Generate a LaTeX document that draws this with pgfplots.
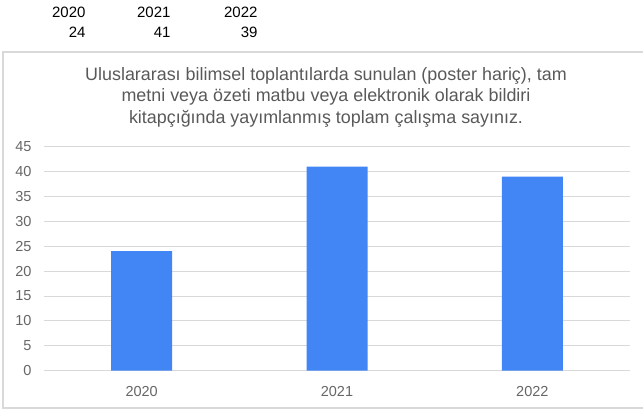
\documentclass[border=0pt]{standalone}
\usepackage{fontspec}
\setmainfont{Liberation Sans}
\usepackage{pgfplots}
\pgfplotsset{compat=1.18}
\definecolor{barblue}{HTML}{4285F4}
\definecolor{gridgray}{HTML}{D9D9D9}
\definecolor{boxgray}{HTML}{D9D9D9}
\definecolor{titlegray}{HTML}{595959}
\definecolor{tickgray}{HTML}{666666}
\begin{document}
\begin{tikzpicture}
\begin{axis}[
  at={(44pt,38.3pt)}, anchor=south west,
  scale only axis, width=586pt, height=224pt,
  xmin=-0.5, xmax=2.5, ymin=0, ymax=45,
  xtick={0,1,2}, xticklabels={2020,2021,2022},
  ytick={0,5,...,45},
  axis line style={draw=none},
  major tick length=0pt,
  ymajorgrids, grid style={gridgray,line width=1pt},
  tick label style={text=tickgray,font=\fontsize{14.5}{14.5}\selectfont},
  /pgf/number format/assume math mode=true,
  yticklabel style={anchor=east,xshift=-9pt},
  xticklabel style={yshift=-12pt},
]
\addplot[ybar, bar width=61pt, fill=barblue, draw=none] coordinates {(0,24) (1,41) (2,39)};
\end{axis}
\begin{scope}[x=1pt,y=1pt]
\useasboundingbox (0,0) rectangle (643,409);
\draw[boxgray,line width=1.2pt] (643,357) -- (3,357) -- (3,1) -- (643,1);
\node[anchor=east,font=\fontsize{15}{15}\selectfont] at (89,397) {2020};
\node[anchor=east,font=\fontsize{15}{15}\selectfont] at (89,377) {24};
\node[anchor=east,font=\fontsize{15}{15}\selectfont] at (174,397) {2021};
\node[anchor=east,font=\fontsize{15}{15}\selectfont] at (174,377) {41};
\node[anchor=east,font=\fontsize{15}{15}\selectfont] at (261,397) {2022};
\node[anchor=east,font=\fontsize{15}{15}\selectfont] at (261,377) {39};
\node[align=center,text=titlegray,font=\fontsize{17.9}{21.5}\selectfont] at (326,312)
  {Uluslararası bilimsel toplantılarda sunulan (poster hariç), tam\\
   metni veya özeti matbu veya elektronik olarak bildiri\\
   kitapçığında yayımlanmış toplam çalışma sayınız.};
\end{scope}
\end{tikzpicture}
\end{document}
